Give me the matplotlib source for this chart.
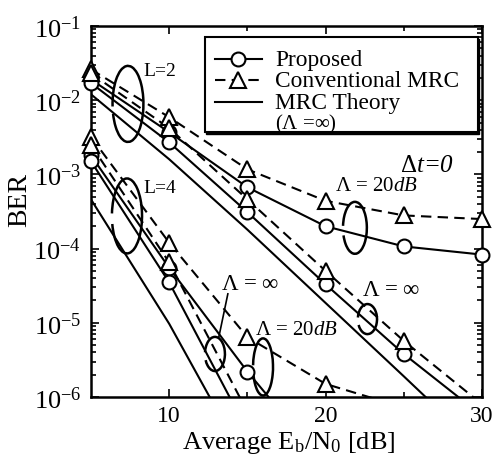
import matplotlib
matplotlib.use('Agg')
import matplotlib.pyplot as plt
from matplotlib.patches import Arc, Rectangle
from matplotlib.lines import Line2D
import matplotlib.ticker as mticker

plt.rcParams['font.family'] = ['Liberation Serif', 'DejaVu Serif']
plt.rcParams['mathtext.fontset'] = 'custom'
plt.rcParams['mathtext.rm'] = 'Liberation Serif'
plt.rcParams['mathtext.it'] = 'Liberation Serif:italic'
plt.rcParams['mathtext.bf'] = 'Liberation Serif:bold'

# Average Eb/N0 [dB]
snr = [5, 10, 15, 20, 25, 30]

# L=2 branches
prop2_20 = [1.9e-2, 3.7e-3, 6.7e-4, 2.0e-4, 1.07e-4, 8.3e-5]
conv2_20 = [2.6e-2, 5.9e-3, 1.17e-3, 4.4e-4, 2.8e-4, 2.5e-4]
prop2_inf = [1.7e-2, 2.7e-3, 3.1e-4, 3.3e-5, 3.8e-6, 5.6e-7]
conv2_inf = [2.3e-2, 4.2e-3, 4.6e-4, 5.0e-5, 5.7e-6, 8.0e-7]
theory2 = [1.2e-2, 1.6e-3, 1.8e-4, 1.85e-5, 1.9e-6, 1.9e-7]

# L=4 branches
prop4_20 = [1.8e-3, 5.5e-5, 2.2e-6, 1.2e-7]
conv4_20 = [3.2e-3, 1.2e-4, 6.4e-6, 1.5e-6, 7.2e-7]
prop4_inf = [1.5e-3, 3.5e-5, 3.5e-7]
conv4_inf = [2.5e-3, 6.5e-5, 6.3e-7]
theory4 = [4.6e-4, 9.7e-6, 1.2e-7]

YMIN, YMAX = 1e-6, 1e-1
dash = (0, (5, 3))

fig = plt.figure(figsize=(4.97, 4.64), dpi=100)
ax = fig.add_axes([91 / 497, 66 / 464, 391 / 497, 371 / 464])


def draw(y, marker, ls):
    x = snr[:len(y)]
    ax.plot(x, y, color='black', lw=1.5, ls=ls)
    if marker:
        pts = [(a, b) for a, b in zip(x, y) if b >= YMIN]
        ax.plot([p[0] for p in pts], [p[1] for p in pts], ls='none', marker=marker,
                ms=10 if marker == 'o' else 11, mfc='white', mec='black', mew=1.5,
                clip_on=False, zorder=5)


for y in [prop2_20, prop2_inf, prop4_20, prop4_inf]:
    draw(y, 'o', '-')
for y in [conv2_20, conv2_inf, conv4_20, conv4_inf]:
    draw(y, '^', dash)
for y in [theory2, theory4]:
    draw(y, None, '-')

ax.set_yscale('log')
ax.set_xlim(5, 30)
ax.set_ylim(YMIN, YMAX)
ax.xaxis.set_major_locator(mticker.FixedLocator([10, 20, 30]))
ax.xaxis.set_minor_locator(mticker.FixedLocator([15, 25]))
ax.yaxis.set_major_locator(mticker.LogLocator(base=10, numticks=10))
ax.yaxis.set_minor_locator(mticker.LogLocator(base=10, subs=range(2, 10), numticks=20))
ax.yaxis.set_minor_formatter(mticker.NullFormatter())
ax.tick_params(which='both', direction='in', top=True, right=True, width=1.2)
ax.tick_params(which='major', length=6, pad=6)
ax.tick_params(which='minor', length=3.5)
ax.tick_params(axis='x', labelsize=17)
ax.tick_params(axis='y', labelsize=19, pad=7)
for s in ax.spines.values():
    s.set_linewidth(1.8)

ax.set_xlabel(r'Average E$_\mathrm{b}$/N$_0$ [dB]', fontsize=19)
ax.set_ylabel('BER', fontsize=20)
ax.xaxis.set_label_coords(0.506, -0.085)
ax.yaxis.set_label_coords(-0.15, 0.534)

# Legend (manual)
ax.add_patch(Rectangle((0.295, 0.708), 0.698, 0.258, transform=ax.transAxes,
                       facecolor='black', edgecolor='black', zorder=6, clip_on=False))
ax.add_patch(Rectangle((0.2916, 0.714), 0.698, 0.256, transform=ax.transAxes,
                       facecolor='white', edgecolor='black', lw=1.5, zorder=7))
rows = [0.911, 0.854, 0.795]
styles = [('o', '-'), ('^', dash), (None, '-')]
labels = ['Proposed', 'Conventional MRC', 'MRC Theory']
for yy, (mk, ls), lab in zip(rows, styles, labels):
    ax.add_line(Line2D([0.317, 0.437], [yy, yy], transform=ax.transAxes, color='black',
                       lw=1.5, ls=ls, zorder=8))
    if mk:
        ax.add_line(Line2D([0.376], [yy], transform=ax.transAxes, marker=mk,
                           ms=10 if mk == 'o' else 11, mfc='white', mec='black',
                           mew=1.5, ls='none', zorder=9))
    ax.text(0.471, yy, lab, transform=ax.transAxes, fontsize=16.8, va='center', zorder=9)
ax.text(0.471, 0.736, r'($\Lambda$ =$\infty$)', transform=ax.transAxes, fontsize=15,
        va='center', zorder=9)

# Annotations
ann = dict(transform=ax.transAxes, fontsize=15, va='center')
ax.text(0.133, 0.879, 'L=2', transform=ax.transAxes, fontsize=14, va='center')
ax.text(0.133, 0.566, 'L=4', transform=ax.transAxes, fontsize=14, va='center')
ax.text(0.624, 0.569, r'$\Lambda$ = 20$\mathit{dB}$', **ann)
ax.text(0.790, 0.624, r'$\mathit{\Delta t}$=0', transform=ax.transAxes, fontsize=18,
        va='center', style='italic')
ax.text(0.693, 0.291, r'$\Lambda$ = $\infty$', transform=ax.transAxes, fontsize=16.5,
        va='center')
ax.text(0.333, 0.305, r'$\Lambda$ = $\infty$', transform=ax.transAxes, fontsize=16.5,
        va='center')
ax.text(0.419, 0.183, r'$\Lambda$ = 20$\mathit{dB}$', **ann)

# hand-drawn loops (center, width, height in axes fraction)
loops = [((0.0946, 0.790), 0.079, 0.205, 215, 550),
         ((0.092, 0.488), 0.077, 0.202, 210, 530),
         ((0.675, 0.456), 0.061, 0.140, 215, 530),
         ((0.707, 0.210), 0.049, 0.081, 215, 530),
         ((0.317, 0.116), 0.051, 0.092, 215, 530),
         ((0.440, 0.081), 0.051, 0.154, 215, 530)]
for c, w, h, t1, t2 in loops:
    ax.add_patch(Arc(c, w, h, theta1=t1, theta2=t2, transform=ax.transAxes,
                     color='black', lw=1.8, zorder=4))
ax.add_line(Line2D([0.350, 0.327], [0.278, 0.162], transform=ax.transAxes,
                   color='black', lw=1.2))

fig.savefig('out.png', dpi=100)
